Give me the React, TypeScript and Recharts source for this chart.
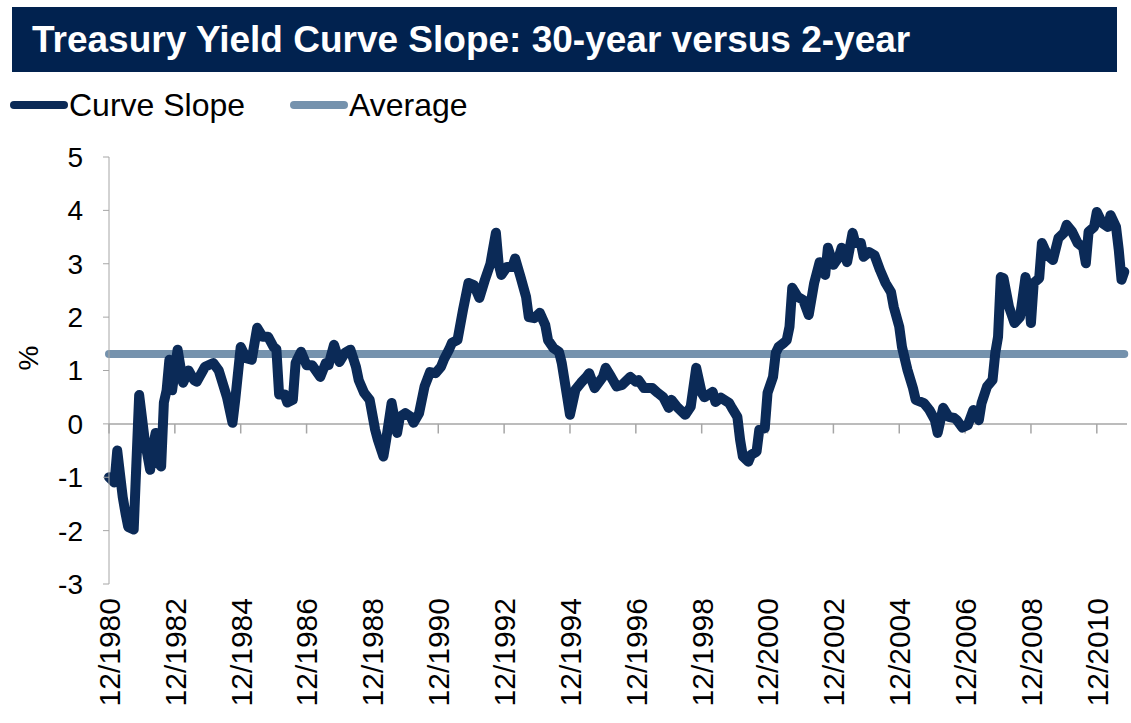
import { Line, LineChart, ReferenceLine, XAxis, YAxis } from 'recharts'

const dates = [
  '1980-12', '1981-02', '1981-03', '1981-05', '1981-06', '1981-07', '1981-09', '1981-11',
  '1982-01', '1982-03', '1982-04', '1982-05', '1982-06', '1982-07', '1982-08', '1982-09', '1982-10', '1982-11',
  '1983-01', '1983-03', '1983-05', '1983-07', '1983-08', '1983-11',
  '1984-02', '1984-04', '1984-07', '1984-09', '1984-10', '1984-12',
  '1985-02', '1985-04', '1985-06', '1985-08', '1985-10', '1985-12',
  '1986-01', '1986-02', '1986-04', '1986-05', '1986-07', '1986-08', '1986-10', '1986-12',
  '1987-02', '1987-05', '1987-07', '1987-08', '1987-10', '1987-12',
  '1988-02', '1988-04', '1988-06', '1988-07', '1988-09', '1988-11',
  '1989-01', '1989-02', '1989-04', '1989-05', '1989-07', '1989-09', '1989-10', '1989-12',
  '1990-02', '1990-03', '1990-05', '1990-07', '1990-09', '1990-11',
  '1991-01', '1991-02', '1991-04', '1991-05', '1991-07', '1991-09', '1991-11',
  '1992-01', '1992-03', '1992-05', '1992-07', '1992-09', '1992-10', '1992-11',
  '1993-01', '1993-03', '1993-04', '1993-06', '1993-08', '1993-09', '1993-11',
  '1994-01', '1994-03', '1994-04', '1994-06', '1994-08', '1994-09', '1994-11', '1994-12',
  '1995-02', '1995-04', '1995-06', '1995-07', '1995-09', '1995-12',
  '1996-01', '1996-03', '1996-05', '1996-07', '1996-10', '1996-12',
  '1997-01', '1997-03', '1997-06', '1997-08', '1997-10', '1997-12',
  '1998-01', '1998-03', '1998-06', '1998-08', '1998-10', '1998-12',
  '1999-01', '1999-04', '1999-05', '1999-07', '1999-10', '1999-11',
  '2000-01', '2000-02', '2000-03', '2000-05', '2000-06', '2000-08', '2000-09', '2000-11', '2000-12',
  '2001-02', '2001-03', '2001-04', '2001-06', '2001-07', '2001-08', '2001-09', '2001-11',
  '2002-01', '2002-03', '2002-05', '2002-07', '2002-09', '2002-10', '2002-12',
  '2003-02', '2003-03', '2003-05', '2003-07', '2003-08', '2003-10', '2003-11',
  '2004-01', '2004-03', '2004-05', '2004-07', '2004-09', '2004-10', '2004-12',
  '2005-01', '2005-03', '2005-05', '2005-06', '2005-09', '2005-11',
  '2006-01', '2006-02', '2006-04', '2006-06', '2006-08', '2006-09', '2006-11',
  '2007-01', '2007-03', '2007-05', '2007-06', '2007-08', '2007-10', '2007-11', '2007-12',
  '2008-01', '2008-02', '2008-04', '2008-06', '2008-08', '2008-10', '2008-11', '2008-12',
  '2009-01', '2009-03', '2009-04', '2009-06', '2009-08', '2009-10', '2009-12',
  '2010-01', '2010-03', '2010-05', '2010-07', '2010-08', '2010-09', '2010-11', '2010-12',
  '2011-02', '2011-04', '2011-05', '2011-07', '2011-08', '2011-09', '2011-10',
]

const curveSlope = [
  -1.0, -1.1, -0.5, -1.37, -1.67, -1.93, -1.98, 0.54,
  -0.3, -0.86, -0.43, -0.17, -0.73, -0.8, 0.4, 0.63, 1.2, 0.63,
  1.39, 0.77, 1.0, 0.82, 0.79, 1.07,
  1.14, 1.0, 0.5, 0.02, 0.45, 1.44,
  1.23, 1.2, 1.8, 1.63, 1.63, 1.44,
  1.4, 0.55, 0.55, 0.4, 0.45, 1.14, 1.35, 1.1,
  1.1, 0.88, 1.14, 1.1, 1.48, 1.16,
  1.33, 1.39, 1.07, 0.82, 0.58, 0.45,
  -0.11, -0.3, -0.61, -0.3, 0.39, -0.17, 0.13, 0.2,
  0.13, 0.02, 0.2, 0.7, 0.97, 0.95,
  1.07, 1.2, 1.4, 1.52, 1.57, 2.13, 2.64,
  2.6, 2.36, 2.7, 3.0, 3.58, 3.0, 2.79,
  2.94, 2.94, 3.1, 2.75, 2.38, 2.0, 1.98,
  2.08, 1.85, 1.57, 1.42, 1.35, 1.14, 0.5, 0.17,
  0.64, 0.77, 0.88, 0.95, 0.67, 0.88,
  1.05, 0.88, 0.7, 0.73, 0.88, 0.79,
  0.82, 0.67, 0.67, 0.58, 0.5, 0.3,
  0.45, 0.32, 0.17, 0.32, 1.05, 0.58,
  0.5, 0.6, 0.41, 0.49, 0.39, 0.3,
  0.13, -0.3, -0.61, -0.71, -0.58, -0.52, -0.11, -0.08, 0.58,
  0.88, 1.33, 1.44, 1.52, 1.57, 1.82, 2.55, 2.38,
  2.32, 2.04, 2.64, 3.03, 2.79, 3.3, 2.98,
  3.13, 3.3, 3.03, 3.58, 3.39, 3.39, 3.13,
  3.22, 3.16, 2.88, 2.64, 2.47, 2.19, 1.82,
  1.44, 1.01, 0.67, 0.45, 0.39, 0.26,
  0.07, -0.17, 0.3, 0.13, 0.11, 0.07, -0.07,
  -0.02, 0.26, 0.07, 0.39, 0.7, 0.82, 1.33, 1.63,
  2.75, 2.73, 2.19, 1.89, 2.0, 2.75, 2.51, 1.89,
  2.64, 2.73, 3.39, 3.16, 3.07, 3.48, 3.58,
  3.73, 3.6, 3.39, 3.31, 3.01, 3.6, 3.69, 3.97,
  3.76, 3.69, 3.91, 3.69, 3.26, 2.7, 2.85,
]

const AVERAGE = 1.31
const yTicks = [-3, -2, -1, 0, 1, 2, 3, 4, 5]
// months after 12/1980, one label every two years
const xTicks = [0, 24, 48, 72, 96, 120, 144, 168, 192, 216, 240, 264, 288, 312, 336, 360]

const NAVY = '#0b2a57'
const STEEL = '#7592ad'
const GREY = '#a6a6a6'
const FONT = '"Liberation Sans", Arial, sans-serif'

const monthIndex = (d: string) => {
  const [y, m] = d.split('-').map(Number)
  return (y - 1980) * 12 + (m - 12)
}

const data = dates.map((d, i) => ({ t: monthIndex(d), slope: curveSlope[i], avg: AVERAGE }))

function DateTick({ x, y, payload }: any) {
  const year = 1980 + payload.value / 12
  return (
    <g transform={`translate(${x},${y + 14})`}>
      <text transform="rotate(-90)" textAnchor="end" dy="0.36em" fontSize={30} fill="#000" fontFamily={FONT}>
        {`12/${year}`}
      </text>
    </g>
  )
}

function LegendItem({ color, label, left }: { color: string; label: string; left: number }) {
  return (
    <div style={{ position: 'absolute', left, top: 86, display: 'flex', alignItems: 'center', height: 38 }}>
      <div style={{ width: 58, height: 8, borderRadius: 4, background: color }} />
      <span style={{ fontSize: 32, color: '#000', marginLeft: 1 }}>{label}</span>
    </div>
  )
}

export default function App() {
  return (
    <div style={{ position: 'absolute', left: 0, top: 0, width: 1131, height: 723, background: '#fff', fontFamily: FONT }}>
      <div
        style={{
          position: 'absolute',
          left: 12,
          top: 7,
          width: 1105,
          height: 65,
          background: '#01224f',
          color: '#fff',
          fontWeight: 'bold',
          fontSize: 37,
          lineHeight: '65px',
          paddingLeft: 20,
          boxSizing: 'border-box',
          whiteSpace: 'nowrap',
        }}
      >
        Treasury Yield Curve Slope: 30-year versus 2-year
      </div>
      <LegendItem color={NAVY} label="Curve Slope" left={10} />
      <LegendItem color={STEEL} label="Average" left={290} />
      <LineChart width={1131} height={723} data={data} margin={{ top: 157, right: 4, bottom: 0, left: 0 }}>
        <XAxis
          dataKey="t"
          type="number"
          domain={[0, 371]}
          ticks={xTicks}
          interval={0}
          axisLine={false}
          tickLine={false}
          tickSize={0}
          tickMargin={0}
          height={139}
          tick={<DateTick />}
        />
        <YAxis
          domain={[-3, 5]}
          ticks={yTicks}
          interval={0}
          width={109}
          axisLine={{ stroke: GREY }}
          tickLine={{ stroke: GREY }}
          tickSize={6}
          tickMargin={20}
          tick={{ fontSize: 28, fill: '#000', fontFamily: FONT }}
          label={{ value: '%', angle: -90, position: 'insideLeft', offset: 28, fontSize: 28, fill: '#000', fontFamily: FONT }}
        />
        <ReferenceLine y={0} stroke={GREY} strokeWidth={1.5} />
        {xTicks.map((t) => (
          <ReferenceLine key={t} segment={[{ x: t, y: 0 }, { x: t, y: -0.18 }]} stroke={GREY} strokeWidth={1.5} />
        ))}
        <Line
          dataKey="avg"
          stroke={STEEL}
          strokeWidth={8}
          strokeLinecap="round"
          dot={false}
          isAnimationActive={false}
        />
        <Line
          dataKey="slope"
          stroke={NAVY}
          strokeWidth={10}
          strokeLinejoin="round"
          strokeLinecap="round"
          dot={false}
          isAnimationActive={false}
        />
      </LineChart>
    </div>
  )
}
